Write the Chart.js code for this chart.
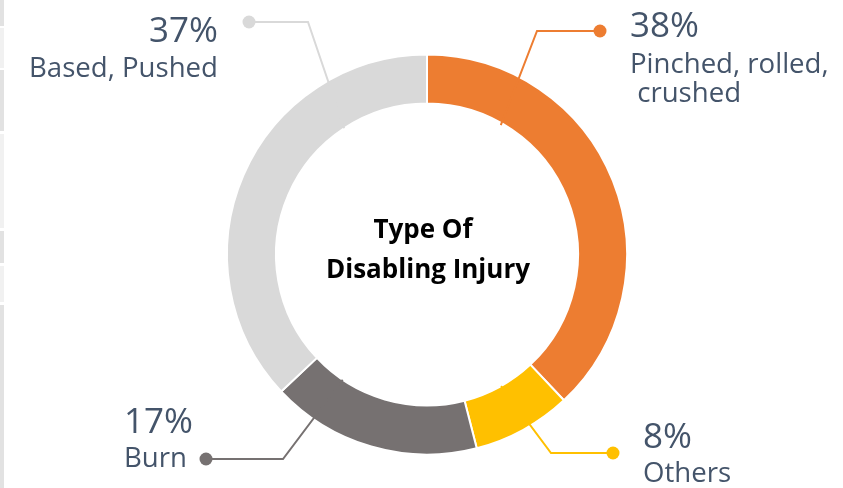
<!DOCTYPE html>
<html>
<head>
<meta charset="utf-8">
<script src="https://cdn.jsdelivr.net/npm/chart.js@4"></script>
<style>
  body { margin: 0; background: #fff; }
  #wrap { position: relative; width: 843px; height: 488px; overflow: hidden; }
  #edge { position: absolute; left: 0; top: 0; width: 4px; height: 488px;
    background: linear-gradient(#e2e2e2 0 26px, #fff 26px 28px, #f1f1f1 28px 68px, #fff 68px 70px,
      #e2e2e2 70px 131px, #fff 131px 134px, #f1f1f1 134px 228px, #fff 228px 231px,
      #e2e2e2 231px 263px, #fff 263px 266px, #f1f1f1 266px 302px, #fff 302px 305px, #e2e2e2 305px); }
  .txt { position: absolute; font-family: "Open Sans", sans-serif; color: #44546a; line-height: 1; white-space: pre; }
  .center { position: absolute; text-align: center; font-family: "Open Sans", sans-serif;
    font-weight: bold; color: #000; font-size: 26px; line-height: 1; }
</style>
</head>
<body>
<div id="wrap">
  <canvas id="chart" width="843" height="488"></canvas>
  <div id="edge"></div>
</div>
<script>
const title = ['Type Of', 'Disabling Injury'];
const categories = ['Pinched, rolled,\n crushed', 'Others', 'Burn', 'Based, Pushed'];
const values = [38, 8, 17, 37];
const colors = ['#ED7D31', '#FFC000', '#767171', '#D9D9D9'];

// label placement (layout only)
const labelPos = [
    { align: 'left', x: 630, pctBase: 37, lblBase: 74 },
    { align: 'left', x: 643, pctBase: 448, lblBase: 483 },
    { align: 'right', x: 193, pctBase: 433, lblBase: 468, lblX: 187 },
    { align: 'right', x: 218, pctBase: 42, lblBase: 78 }
];
// leader lines: where on the slice they start, elbow offset and dot offset from centre
const leaders = [
    { frac: 0.217, rOff: -2, elbow: [110, -223.5], dotDx: 173 },
    { frac: 0.48, rOff: 0, elbow: [124, 198.5], dotDx: 186 },
    { frac: 0.79, rOff: 0, elbow: [-144, 204.5], dotDx: -221 },
    { frac: 0.75, rOff: 0, elbow: [-119, -232.5], dotDx: -178 }
];
const titleCenters = [423, 428];

const wrap = document.getElementById('wrap');
const PCT_FS = 35, LBL_FS = 27.6, LBL_LH = 29;

function addText(text, fs, x, baseline, align) {
    const d = document.createElement('div');
    d.className = 'txt';
    d.style.fontSize = fs + 'px';
    d.style.top = (baseline - 0.888 * fs) + 'px';
    if (align === 'right') {
        d.style.right = (843 - x) + 'px';
        d.style.textAlign = 'right';
    } else {
        d.style.left = x + 'px';
    }
    d.textContent = text;
    wrap.appendChild(d);
}

categories.forEach((cat, i) => {
    const p = labelPos[i];
    addText(values[i] + '%', PCT_FS, p.x, p.pctBase, p.align);
    cat.split('\n').forEach((line, j) => {
        addText(line, LBL_FS, p.lblX || p.x, p.lblBase + j * LBL_LH, p.align);
    });
});

title.forEach((t, j) => {
    const d = document.createElement('div');
    d.className = 'center';
    d.style.top = (238 + j * 40 - 0.888 * 26) + 'px';
    d.style.left = (titleCenters[j] - 200) + 'px';
    d.style.width = '400px';
    d.textContent = t;
    wrap.appendChild(d);
});

const leaderPlugin = {
    id: 'leaders',
    afterDatasetsDraw(chart) {
        const ctx = chart.ctx;
        const arcs = chart.getDatasetMeta(0).data;
        arcs.forEach((arc, i) => {
            const { x, y, startAngle, endAngle, innerRadius } = arc.getProps(['x', 'y', 'startAngle', 'endAngle', 'innerRadius'], true);
            const l = leaders[i];
            const a = startAngle + l.frac * (endAngle - startAngle);
            const r = innerRadius + l.rOff;
            const ex = x + l.elbow[0], ey = y + l.elbow[1];
            const dx = x + l.dotDx;
            ctx.save();
            ctx.strokeStyle = colors[i];
            ctx.fillStyle = colors[i];
            ctx.lineWidth = 2;
            ctx.beginPath();
            ctx.moveTo(x + Math.cos(a) * r, y + Math.sin(a) * r);
            ctx.lineTo(ex, ey);
            ctx.lineTo(dx, ey);
            ctx.stroke();
            ctx.beginPath();
            ctx.arc(dx, ey, 6.5, 0, Math.PI * 2);
            ctx.fill();
            ctx.restore();
        });
    }
};

new Chart(document.getElementById('chart'), {
    type: 'doughnut',
    data: {
        labels: categories,
        datasets: [{
            data: values,
            backgroundColor: colors,
            borderColor: '#ffffff',
            borderWidth: 2
        }]
    },
    options: {
        responsive: false,
        animation: false,
        radius: 200,
        cutout: '75.5%',
        layout: { padding: { left: 220, right: 209, top: 54, bottom: 33 } },
        plugins: { legend: { display: false }, tooltip: { enabled: false } }
    },
    plugins: [leaderPlugin]
});
</script>
</body>
</html>
